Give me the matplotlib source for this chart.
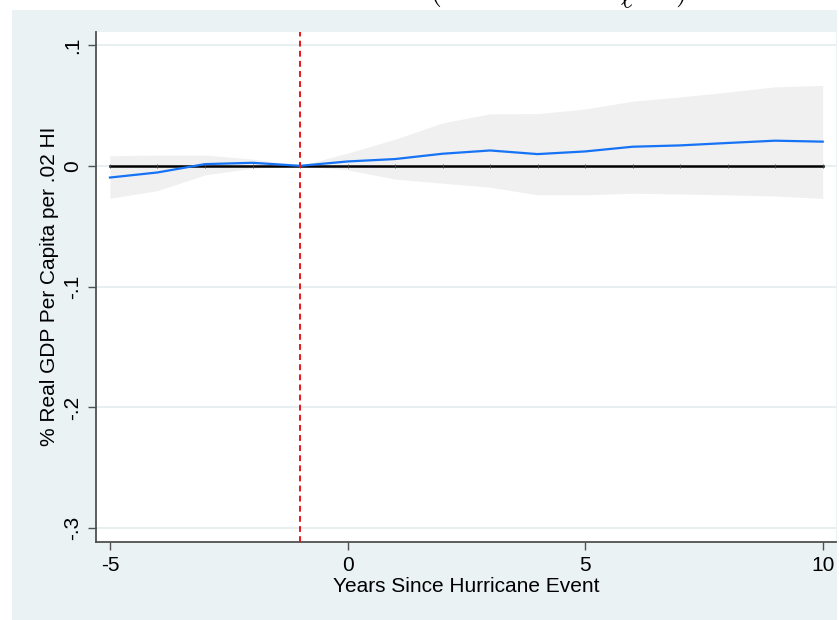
import matplotlib
matplotlib.use("Agg")
import matplotlib.pyplot as plt
from matplotlib.patches import Rectangle

# Event-study estimates: effect on real GDP per capita, by years since the hurricane
years = [-5, -4, -3, -2, -1, 0, 1, 2, 3, 4, 5, 6, 7, 8, 9, 10]
coef = [-0.0097, -0.0055, 0.0014, 0.0025, 0.0, 0.0036, 0.0056, 0.0100,
        0.0127, 0.0097, 0.0119, 0.0158, 0.0169, 0.0189, 0.0208, 0.0200]
ci_upper = [0.0083, 0.0089, 0.0089, 0.0056, 0.0, 0.0105, 0.0220, 0.0355,
            0.0430, 0.0432, 0.0470, 0.0535, 0.0570, 0.0610, 0.0654, 0.0665]
ci_lower = [-0.0269, -0.0205, -0.0075, -0.0020, 0.0, -0.0033, -0.0110, -0.0144,
            -0.0177, -0.0240, -0.0240, -0.0227, -0.0233, -0.0240, -0.0250, -0.0269]
zero_line = [0.0] * len(years)

xticks = [-5, 0, 5, 10]
yticks = [0.1, 0.0, -0.1, -0.2, -0.3]
ytick_labels = [".1", "0", "-.1", "-.2", "-.3"]
event_year = -1

plt.rcParams["font.family"] = ["Liberation Sans", "DejaVu Sans"]

W, H = 839, 620
fig = plt.figure(figsize=(W / 100, H / 100), dpi=100)
fig.patch.set_facecolor("white")

# Stata-style outer panel, drawn beneath the plot region
fig.patches.append(Rectangle((12 / W, 0), (837 - 12) / W, (H - 10) / H,
                             transform=fig.transFigure, facecolor="#EAF2F3",
                             edgecolor="none", zorder=-10))

# Bottom of the (cropped) title above the graph
fig.text(435 / W, 1 + 1 / H, r"$($", fontsize=22, ha="center", va="baseline",
         math_fontfamily="cm")
fig.text(627 / W, 1 - 7 / H, r"$\ell$", fontsize=22, ha="center", va="baseline",
         math_fontfamily="cm")
fig.text(680 / W, 1 + 1 / H, r"$)$", fontsize=22, ha="center", va="baseline",
         math_fontfamily="cm")

left, right, top, bottom = 95.7, 836.0, 31.7, 541.7
ax = fig.add_axes([left / W, (H - bottom) / H, (right - left) / W, (bottom - top) / H])
ax.set_zorder(5)
ax.set_facecolor("white")

ax.set_xlim(-5.30, 10.28)
ax.set_ylim(-0.3111, 0.111)

# horizontal grid at y ticks
for yv in yticks:
    ax.axhline(yv, color="#E4ECEE", lw=1.2, zorder=0.5)

ax.fill_between(years, ci_lower, ci_upper, color="#F0F0F0", lw=0, zorder=1)
ax.plot(years, zero_line, color="black", lw=1.8, marker="|", ms=3, mew=0.6,
        mec="#444444", zorder=2)
ax.plot(years, coef, color="#1673F5", lw=1.6, zorder=3)
ax.axvline(event_year, color="#E8161B", lw=1.4, ls=(0, (3, 2.2)), zorder=4)

ax.set_xticks(xticks)
ax.set_xticklabels([str(v) for v in xticks])
ax.set_yticks(yticks)
ax.set_yticklabels(ytick_labels, rotation=90, va="center")

for s in ["top", "right"]:
    ax.spines[s].set_visible(False)
for s in ["left", "bottom"]:
    ax.spines[s].set_color("#505050")
    ax.spines[s].set_linewidth(1.3)

ax.tick_params(axis="both", direction="out", length=6, width=1, color="#505050",
               labelsize=15, labelcolor="black")
ax.tick_params(axis="y", pad=4)
ax.tick_params(axis="x", pad=4)

ax.set_xlabel("Years Since Hurricane Event", fontsize=15, labelpad=2)
ax.set_ylabel("% Real GDP Per Capita per .02 HI", fontsize=15, labelpad=3)

fig.savefig("out.png", dpi=100, facecolor="white")
